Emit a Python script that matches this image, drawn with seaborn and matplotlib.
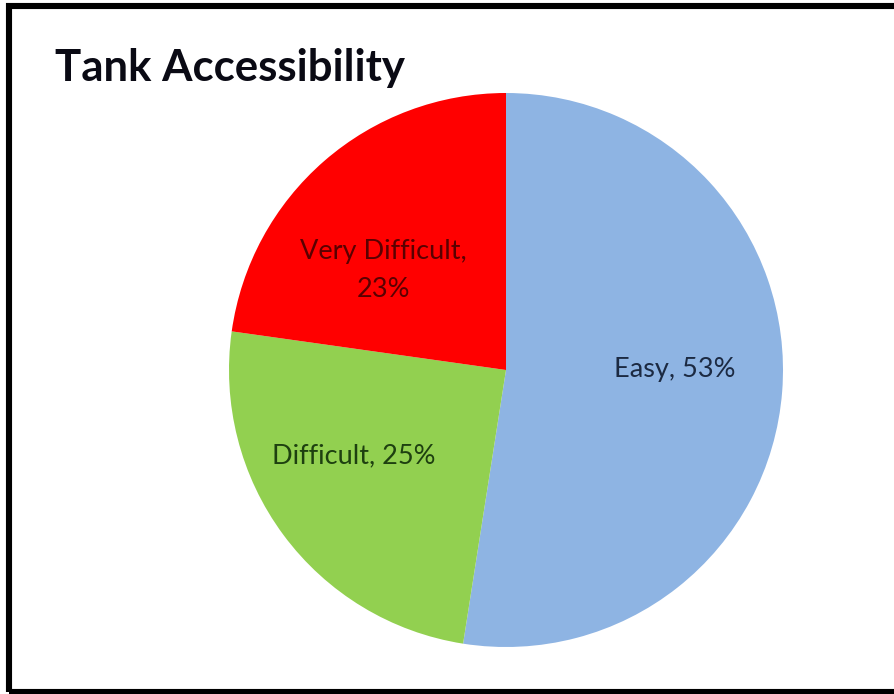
import matplotlib
matplotlib.use("Agg")
import matplotlib.pyplot as plt
import seaborn as sns
import numpy as np
from matplotlib.patches import Rectangle

categories = ["Easy", "Difficult", "Very Difficult"]
values = [53, 25, 23]
colors = ["#8EB4E3", "#92D050", "#FF0000"]
label_colors = ["#1C2A42", "#1E4010", "#5A0000"]
label_texts = ["Easy, 53%", "Difficult, 25%", "Very Difficult,\n23%"]
label_dist = [0.61, 0.63, 0.57]
label_shift = [4.5, -7, 10]  # degrees

sns.set_theme(style="white")
plt.rcParams['font.family'] = ['Lato', 'DejaVu Sans']

fig = plt.figure(figsize=(8.95, 6.94), dpi=100)
W, H = 895, 694
ax = fig.add_axes([229 / W, 47 / H, 554 / W, 554 / H])
wedges, _ = ax.pie(values, colors=sns.color_palette(colors), startangle=90,
                   counterclock=False, radius=1.0,
                   wedgeprops=dict(linewidth=0))
ax.set_xlim(-1, 1)
ax.set_ylim(-1, 1)
ax.set_aspect("equal")
ax.axis("off")

for w, txt, col, d, sh in zip(wedges, label_texts, label_colors, label_dist, label_shift):
    ang = np.deg2rad((w.theta1 + w.theta2) / 2 + sh)
    ax.text(d * np.cos(ang), d * np.sin(ang), txt, ha="center", va="center",
            color=col, fontsize=19.5, linespacing=1.65)

fig.text(55 / W, 1 - 68 / H, "Tank Accessibility", fontsize=31.5, fontweight="bold",
         color="#0a0a14", ha="left", va="center")

fig.patches.append(Rectangle((9 / W, 2 / H), 892 / W, 686 / H, transform=fig.transFigure,
                             fill=False, edgecolor="black", linewidth=4.4, clip_on=False))

fig.savefig("out.png", dpi=100, facecolor="white")
